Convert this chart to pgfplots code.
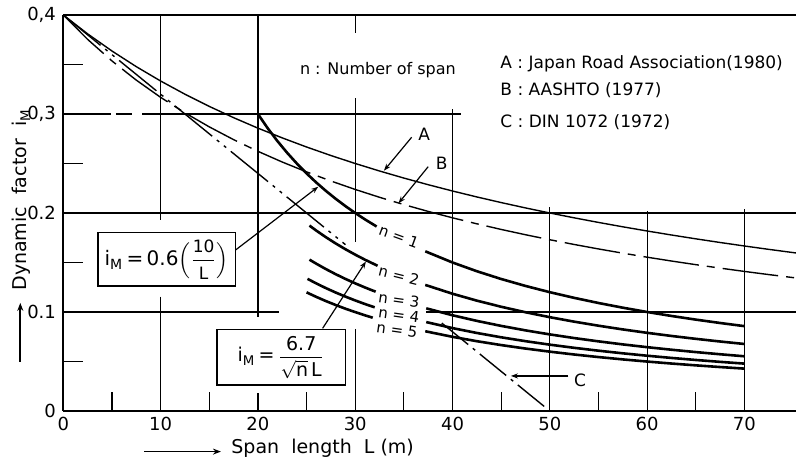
\documentclass[border=0pt]{standalone}
\usepackage{fontspec}
\setmainfont{DejaVu Sans}
\usepackage{amsmath}
\usepackage{pgfplots}
\pgfplotsset{compat=1.18}
\usetikzlibrary{arrows.meta}

\newcommand\lf{\fontsize{8.5}{10}\selectfont}
\newcommand\tf{\fontsize{9}{10}\selectfont}
\newcommand\nf{\fontsize{7.5}{8.5}\selectfont}
\newcommand\fr{\fontsize{8.5}{9}\selectfont}

\begin{document}
\begin{tikzpicture}
\begin{axis}[
    scale only axis,
    width=366.35pt, height=198pt,
    xmin=0, xmax=75.3, ymin=0, ymax=0.4,
    clip=false,
    axis x line=box, axis y line=left,
    x axis line style={-}, y axis line style={-},
    axis line style={line width=1pt},
    xtick={0,10,...,70},
    xticklabels={0,10,20,30,40,50,60,70},
    ytick={0,0.1,0.2,0.3,0.4},
    yticklabels={0,0.1,0.2,{0,3},{0,4}},
    xticklabel pos=lower, yticklabel pos=left,
    major tick length=0pt, tick style={draw=none},
    xticklabel style={font=\tf, anchor=north, inner sep=0pt, yshift=-3pt},
    yticklabel style={font=\tf, anchor=east, inner sep=0pt, xshift=-3.5pt},
  ]
  % grid, drawn in parts as in the original
  \begin{scope}[line width=0.6pt]
    \draw (0,0.3) -- (4.9,0.3);
    \draw (5.4,0.3) -- (7.1,0.3);
    \draw (8.1,0.3) -- (40.9,0.3);
    \draw (0,0.2) -- (75.3,0.2);
    \draw (0,0.1) -- (22.2,0.1);
    \draw (37.3,0.1) -- (75.3,0.1);
    \draw (0,0.05) -- (2.05,0.05);
    \draw (0,0.15) -- (2.05,0.15);
    \draw (0,0.25) -- (2.05,0.25);
    \draw (0,0.35) -- (2.05,0.35);
    \draw (10,0.4) -- (10,0.193);
    \draw (10,0.1155) -- (10,0);
    \draw (20,0.4) -- (20,0.095);
    \draw (20,0.018) -- (20,0);
    \draw (30,0.4) -- (30,0.382);
    \draw (30,0.316) -- (30,0.171);
    \draw (30,0.083) -- (30,0);
    \draw (40,0.305) -- (40,0);
    \draw (50,0.206) -- (50,0);
    \draw (60,0.202) -- (60,0);
    \draw (70,0.204) -- (70,0);
    \draw (5,0) -- (5,0.019);
    \draw (15,0) -- (15,0.019);
    \draw (25,0) -- (25,0.019);
    \draw (35,0) -- (35,0.019);
    \draw (45,0) -- (45,0.019);
    \draw (55,0) -- (55,0.019);
    \draw (65,0) -- (65,0.019);
  \end{scope}

  % A: Japan Road Association (1980)
  \addplot[line width=0.7pt] coordinates {
    (0,0.4) (2.5,0.38095) (5,0.36364) (7.5,0.34783) (10,0.33333) (12.5,0.32)
    (15,0.30769) (17.5,0.2963) (20,0.28571) (22.5,0.27586) (25,0.26667)
    (27.5,0.25806) (30,0.25) (32.5,0.24242) (35,0.23529) (37.5,0.22857)
    (40,0.22222) (42.5,0.21622) (45,0.21053) (47.5,0.20513) (50,0.2)
    (52.5,0.19512) (55,0.19048) (57.5,0.18605) (60,0.18182) (62.5,0.17778)
    (65,0.17391) (67.5,0.17021) (70,0.16667) (72.5,0.16327) (75.3,0.15962)};
  % B: AASHTO (1977)
  \addplot[line width=0.7pt, dash pattern=on 28pt off 4pt on 4pt off 4pt] coordinates {
    (0,0.4) (2.5,0.37537) (5,0.3536) (7.5,0.33421) (10,0.31684) (12.5,0.30119)
    (15,0.28701) (17.5,0.2741) (20,0.26231) (22.5,0.25149) (25,0.24152)
    (27.5,0.23232) (30,0.22379) (32.5,0.21586) (35,0.20848) (37.5,0.20159)
    (40,0.19514) (42.5,0.18908) (45,0.18339) (47.5,0.17804) (50,0.17299)
    (52.5,0.16821) (55,0.16369) (57.5,0.15941) (60,0.15535) (62.5,0.15149)
    (65,0.14782) (67.5,0.14432) (70,0.14098) (72.5,0.13779) (75.3,0.13439)};
  % C: DIN 1072 (1972)
  \addplot[line width=0.7pt, dash pattern=on 24pt off 3pt on 1.5pt off 3pt on 1.5pt off 3pt]
    coordinates {(0,0.4) (29,0.168)};
  \addplot[line width=0.7pt, dash pattern=on 17pt off 3pt on 1.5pt off 3pt]
    coordinates {(38.9,0.0888) (50,0)};

  % i_M = 0.6(10/L), n = 1
  \addplot[line width=1.3pt] coordinates {
    (20,0.3) (21,0.28571) (22,0.27273) (23,0.26087) (24,0.25) (25,0.24)
    (26,0.23077) (27,0.22222) (28,0.21429) (29,0.2069) (30,0.2) (31,0.19355)
    (32.2,0.18634)};
  \addplot[line width=1.3pt] coordinates {
    (37.2,0.16129) (40,0.15) (42.5,0.14118) (45,0.13333) (47.5,0.12632) (50,0.12)
    (52.5,0.11429) (55,0.10909) (57.5,0.10435) (60,0.1) (62.5,0.096) (65,0.09231)
    (67.5,0.08889) (70,0.08571)};
  % n = 2
  \addplot[line width=1.3pt] coordinates {
    (25.3,0.18726) (26,0.18222) (27,0.17547) (28,0.1692) (29,0.16337) (30,0.15792)
    (31,0.15283) (32.3,0.14668)};
  \addplot[line width=1.3pt] coordinates {
    (37.2,0.12736) (40,0.11844) (42.5,0.11147) (45,0.10528) (47.5,0.09974) (50,0.09475)
    (52.5,0.09024) (55,0.08614) (57.5,0.08239) (60,0.07896) (62.5,0.0758) (65,0.07289)
    (67.5,0.07019) (70,0.06768)};
  % n = 3
  \addplot[line width=1.3pt] coordinates {
    (25.3,0.15289) (26,0.14878) (27,0.14327) (28,0.13815) (29,0.13339) (30,0.12894)
    (31,0.12478) (32.1,0.1205)};
  \addplot[line width=1.3pt] coordinates {
    (37.3,0.1037) (40,0.0967) (42.5,0.09102) (45,0.08596) (47.5,0.08144) (50,0.07736)
    (52.5,0.07368) (55,0.07033) (57.5,0.06727) (60,0.06447) (62.5,0.06189) (65,0.05951)
    (67.5,0.05731) (70,0.05526)};
  % n = 4
  \addplot[line width=1.3pt] coordinates {
    (25.1,0.13347) (26,0.12885) (27,0.12407) (28,0.11964) (29,0.11552) (30,0.11167)
    (31,0.10806) (32,0.10469)};
  \addplot[line width=1.3pt] coordinates {
    (37.3,0.08981) (40,0.08375) (42.5,0.07882) (45,0.07444) (47.5,0.07053) (50,0.067)
    (52.5,0.06381) (55,0.06091) (57.5,0.05826) (60,0.05583) (62.5,0.0536) (65,0.05154)
    (67.5,0.04963) (70,0.04786)};
  % n = 5
  \addplot[line width=1.3pt] coordinates {
    (25,0.11985) (26,0.11524) (27,0.11098) (28,0.10701) (29,0.10332) (30,0.09988)
    (31,0.09666) (31.8,0.09422)};
  \addplot[line width=1.3pt] coordinates {
    (37.2,0.08055) (40,0.07491) (42.5,0.0705) (45,0.06659) (47.5,0.06308) (50,0.05993)
    (52.5,0.05707) (55,0.05448) (57.5,0.05211) (60,0.04994) (62.5,0.04794) (65,0.0461)
    (67.5,0.04439) (70,0.0428)};

  % texts
  \node[anchor=west, font=\fontsize{8}{9.5}\selectfont] at (23.6,0.344) {n : Number of span};
  \node[anchor=west, font=\lf] at (44.2,0.351) {A : Japan Road Association(1980)};
  \node[anchor=west, font=\lf] at (44.2,0.324) {B : AASHTO (1977)};
  \node[anchor=west, font=\lf] at (44.2,0.292) {C : DIN 1072 (1972)};

  \begin{scope}[line width=0.6pt, -{Stealth[length=3.5pt,width=2.5pt]}]
    \draw (35.8,0.2765) -- (32.95,0.2427);
    \draw (37.5,0.2468) -- (34.45,0.2098);
    \draw (51.9,0.0354) -- (46.0,0.0354);
    \draw (17.7,0.1626) -- (26.2,0.2265);
    \draw (26.65,0.0835) -- (31.1,0.151);
  \end{scope}
  \node[font=\lf] at (37.1,0.279) {A};
  \node[font=\lf] at (38.9,0.2505) {B};
  \node[font=\lf] at (53.1,0.0313) {C};

  \node[font=\nf, rotate=-20] at (34.5,0.176) {n = 1};
  \node[font=\nf, rotate=-14] at (34.5,0.137) {n = 2};
  \node[font=\nf, rotate=-8, inner sep=1pt] at (34.5,0.1125) {n = 3};
  \node[font=\nf, rotate=-8, inner sep=1pt] at (34.5,0.0975) {n = 4};
  \node[font=\nf, rotate=-8, inner sep=1pt] at (34.3,0.082) {n = 5};

  \draw[line width=0.8pt, fill=white] (3.57,0.126) rectangle (17.7,0.1805);
  \node[font=\fontsize{10}{12}\selectfont] at (10.63,0.153)
    {i\textsubscript{M}\,=\,0.6$\Bigl(\dfrac{\text{\fr 10}}{\text{\fr L}}\Bigr)$};
  \draw[line width=0.8pt, fill=white] (15.8,0.026) rectangle (29.0,0.0825);
  \node[font=\fontsize{9.5}{11}\selectfont, inner sep=0pt] at (22.4,0.054)
    {i\textsubscript{M}\,=\,$\dfrac{\ \text{6.7}\ }{\sqrt{\text{n}}\,\text{L}}$};

  % axis titles
  \node[rotate=90, font=\fontsize{9.5}{11}\selectfont] at ([xshift=-21pt]rel axis cs:0,0.533)
    {Dynamic\ \ factor\ \ i\textsubscript{M}};
  \draw[line width=0.8pt, -{Stealth[length=4pt,width=3pt]}]
    ([xshift=-21.5pt]rel axis cs:0,0.1245) -- ([xshift=-21.5pt]rel axis cs:0,0.273);
  \node[font=\fontsize{9.5}{11}\selectfont] at ([yshift=-18.5pt]axis cs:26.65,0)
    {Span\ \ length\ \ L\ (m)};
  \draw[line width=0.8pt, -{Stealth[length=4pt,width=3pt]}]
    ([yshift=-20.3pt]axis cs:8.3,0) -- ([yshift=-20.3pt]axis cs:16.2,0);

  \coordinate (ll) at (rel axis cs:0,0);
  \coordinate (ur) at (rel axis cs:1,1);
\end{axis}
\pgfresetboundingbox
\useasboundingbox ([xshift=-31.65pt,yshift=-25pt]ll) rectangle ([yshift=7.5pt]ur);
\end{tikzpicture}
\end{document}
